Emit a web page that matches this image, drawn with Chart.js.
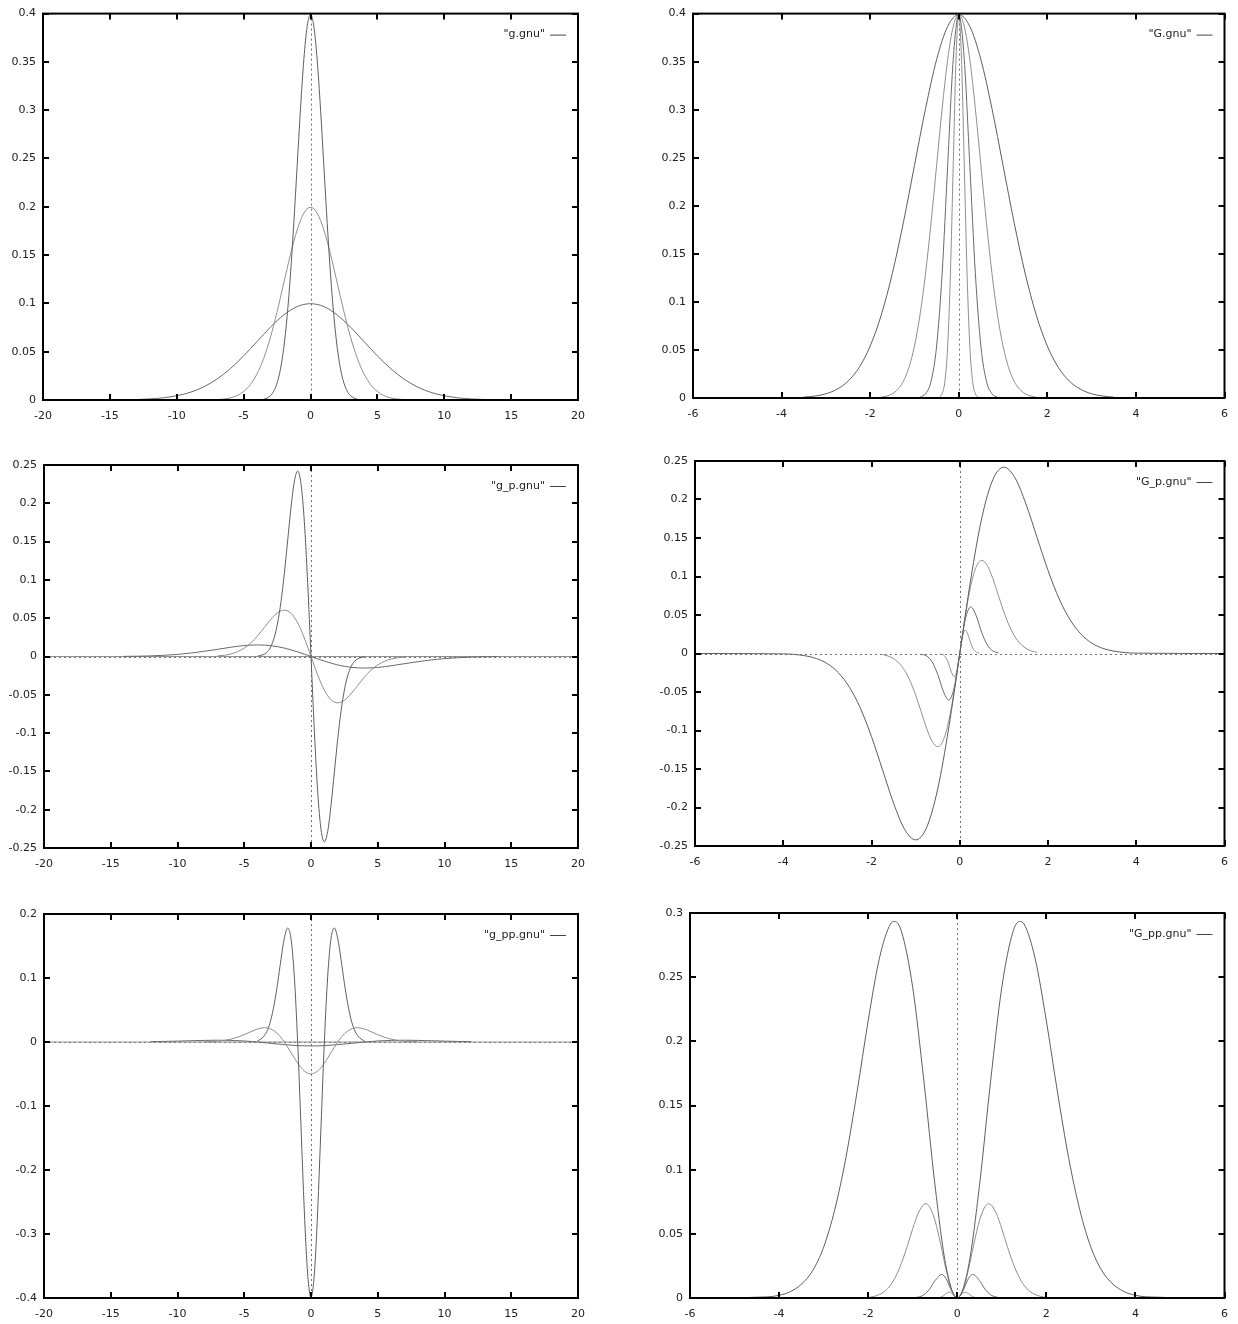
<!DOCTYPE html>
<html><head><meta charset="utf-8">
<script src="https://cdn.jsdelivr.net/npm/chart.js@4.4.1/dist/chart.umd.min.js"></script>
<style>
html,body{margin:0;padding:0;background:#fff;}
#wrap{position:relative;width:1238px;height:1324px;overflow:hidden;background:#fff;}
.panel{position:absolute;}
canvas{display:block;}
</style></head><body><div id="wrap"></div>
<script>
// ---------- tick values ----------
const xTicksWide = [-20,-15,-10,-5,0,5,10,15,20];
const xTicksNarrow = [-6,-4,-2,0,2,4,6];
const yTicksG = [0,0.05,0.1,0.15,0.2,0.25,0.3,0.35,0.4];
const yTicksGp = [-0.25,-0.2,-0.15,-0.1,-0.05,0,0.05,0.1,0.15,0.2,0.25];
const yTicksGpp = [-0.4,-0.3,-0.2,-0.1,0,0.1,0.2];
const yTicksBigGpp = [0,0.05,0.1,0.15,0.2,0.25,0.3];

// ---------- legend labels ----------
const legendLabels = ['"g.gnu"','"G.gnu"','"g_p.gnu"','"G_p.gnu"','"g_pp.gnu"','"G_pp.gnu"'];

// ---------- g.gnu ----------
const g1X = [-3.5,-3.25,-3,-2.75,-2.5,-2.25,-2,-1.75,-1.5,-1.25,-1,-0.75,-0.5,-0.25,0,0.25,0.5,0.75,1,1.25,1.5,1.75,2,2.25,2.5,2.75,3,3.25,3.5];
const g1Y = [0.0009,0.0020,0.0044,0.0091,0.0175,0.0317,0.0540,0.0863,0.1295,0.1826,0.2420,0.3011,0.3521,0.3867,0.3989,0.3867,0.3521,0.3011,0.2420,0.1826,0.1295,0.0863,0.0540,0.0317,0.0175,0.0091,0.0044,0.0020,0.0009];
const g2X = [-7,-6.5,-6,-5.5,-5,-4.5,-4,-3.5,-3,-2.5,-2,-1.5,-1,-0.5,0,0.5,1,1.5,2,2.5,3,3.5,4,4.5,5,5.5,6,6.5,7];
const g2Y = [0.0004,0.0010,0.0022,0.0045,0.0088,0.0159,0.0270,0.0431,0.0648,0.0913,0.1210,0.1506,0.1760,0.1934,0.1995,0.1934,0.1760,0.1506,0.1210,0.0913,0.0648,0.0431,0.0270,0.0159,0.0088,0.0045,0.0022,0.0010,0.0004];
const g4X = [-14,-13,-12,-11,-10,-9,-8,-7,-6,-5,-4,-3,-2,-1,0,1,2,3,4,5,6,7,8,9,10,11,12,13,14];
const g4Y = [0.0002,0.0005,0.0011,0.0023,0.0044,0.0079,0.0135,0.0216,0.0324,0.0457,0.0605,0.0753,0.0880,0.0967,0.0997,0.0967,0.0880,0.0753,0.0605,0.0457,0.0324,0.0216,0.0135,0.0079,0.0044,0.0023,0.0011,0.0005,0.0002];

// ---------- G.gnu ----------
const G1X = [-3.5,-3.25,-3,-2.75,-2.5,-2.25,-2,-1.75,-1.5,-1.25,-1,-0.75,-0.5,-0.25,0,0.25,0.5,0.75,1,1.25,1.5,1.75,2,2.25,2.5,2.75,3,3.25,3.5];
const G1Y = [0.0009,0.0020,0.0044,0.0091,0.0175,0.0317,0.0540,0.0863,0.1295,0.1826,0.2420,0.3011,0.3521,0.3867,0.3989,0.3867,0.3521,0.3011,0.2420,0.1826,0.1295,0.0863,0.0540,0.0317,0.0175,0.0091,0.0044,0.0020,0.0009];
const G2X = [-1.75,-1.625,-1.5,-1.375,-1.25,-1.125,-1,-0.875,-0.75,-0.625,-0.5,-0.375,-0.25,-0.125,0,0.125,0.25,0.375,0.5,0.625,0.75,0.875,1,1.125,1.25,1.375,1.5,1.625,1.75];
const G2Y = [0.0009,0.0020,0.0044,0.0091,0.0175,0.0317,0.0540,0.0863,0.1295,0.1826,0.2420,0.3011,0.3521,0.3867,0.3989,0.3867,0.3521,0.3011,0.2420,0.1826,0.1295,0.0863,0.0540,0.0317,0.0175,0.0091,0.0044,0.0020,0.0009];
const G3X = [-0.875,-0.75,-0.625,-0.5,-0.375,-0.25,-0.125,0,0.125,0.25,0.375,0.5,0.625,0.75,0.875];
const G3Y = [0.0009,0.0044,0.0175,0.0540,0.1295,0.2420,0.3521,0.3989,0.3521,0.2420,0.1295,0.0540,0.0175,0.0044,0.0009];
const G4X = [-0.4375,-0.375,-0.3125,-0.25,-0.1875,-0.125,-0.0625,0,0.0625,0.125,0.1875,0.25,0.3125,0.375,0.4375];
const G4Y = [0.0009,0.0044,0.0175,0.0540,0.1295,0.2420,0.3521,0.3989,0.3521,0.2420,0.1295,0.0540,0.0175,0.0044,0.0009];

// ---------- g_p.gnu ----------
const gp1X = [-4,-3.5,-3.25,-3,-2.75,-2.5,-2.25,-2,-1.75,-1.5,-1.25,-1,-0.75,-0.5,-0.25,0,0.25,0.5,0.75,1,1.25,1.5,1.75,2,2.25,2.5,2.75,3,3.25,3.5,4];
const gp1Y = [0.0005,0.0030,0.0065,0.0132,0.0250,0.0438,0.0713,0.1080,0.1510,0.1943,0.2283,0.2420,0.2258,0.1761,0.0967,0,-0.0967,-0.1761,-0.2258,-0.2420,-0.2283,-0.1943,-0.1510,-0.1080,-0.0713,-0.0438,-0.0250,-0.0132,-0.0065,-0.0030,-0.0005];
const gp2X = [-7,-6.5,-6,-5.5,-5,-4.5,-4,-3.5,-3,-2.5,-2,-1.5,-1,-0.5,0,0.5,1,1.5,2,2.5,3,3.5,4,4.5,5,5.5,6,6.5,7];
const gp2Y = [0.0008,0.0016,0.0033,0.0063,0.0110,0.0178,0.0270,0.0378,0.0486,0.0571,0.0605,0.0565,0.0440,0.0242,0,-0.0242,-0.0440,-0.0565,-0.0605,-0.0571,-0.0486,-0.0378,-0.0270,-0.0178,-0.0110,-0.0063,-0.0033,-0.0016,-0.0008];
const gp4X = [-14,-13,-12,-11,-10,-9,-8,-7,-6,-5,-4,-3,-2,-1,0,1,2,3,4,5,6,7,8,9,10,11,12,13,14];
const gp4Y = [0.0002,0.0004,0.0008,0.0016,0.0027,0.0045,0.0068,0.0094,0.0121,0.0143,0.0151,0.0141,0.0110,0.0060,0,-0.0060,-0.0110,-0.0141,-0.0151,-0.0143,-0.0121,-0.0094,-0.0068,-0.0045,-0.0027,-0.0016,-0.0008,-0.0004,-0.0002];
const gpBaseX = [-20,20];
const gpBaseY = [0,0];

// ---------- G_p.gnu ----------
const Gp1X = [-6,-4,-3.5,-3.25,-3,-2.75,-2.5,-2.25,-2,-1.75,-1.5,-1.25,-1,-0.75,-0.5,-0.25,0,0.25,0.5,0.75,1,1.25,1.5,1.75,2,2.25,2.5,2.75,3,3.25,3.5,4,6];
const Gp1Y = [0,-0.0005,-0.0030,-0.0065,-0.0132,-0.0250,-0.0438,-0.0713,-0.1080,-0.1510,-0.1943,-0.2283,-0.2420,-0.2258,-0.1761,-0.0967,0,0.0967,0.1761,0.2258,0.2420,0.2283,0.1943,0.1510,0.1080,0.0713,0.0438,0.0250,0.0132,0.0065,0.0030,0.0005,0];
const Gp2X = [-1.75,-1.625,-1.5,-1.375,-1.25,-1.125,-1,-0.875,-0.75,-0.625,-0.5,-0.375,-0.25,-0.125,0,0.125,0.25,0.375,0.5,0.625,0.75,0.875,1,1.125,1.25,1.375,1.5,1.625,1.75];
const Gp2Y = [-0.0015,-0.0033,-0.0066,-0.0125,-0.0219,-0.0357,-0.0540,-0.0755,-0.0972,-0.1142,-0.1210,-0.1129,-0.0881,-0.0484,0,0.0484,0.0881,0.1129,0.1210,0.1142,0.0972,0.0755,0.0540,0.0357,0.0219,0.0125,0.0066,0.0033,0.0015];
const Gp3X = [-0.875,-0.75,-0.625,-0.5,-0.375,-0.25,-0.125,0,0.125,0.25,0.375,0.5,0.625,0.75,0.875];
const Gp3Y = [-0.0008,-0.0033,-0.0110,-0.0270,-0.0486,-0.0605,-0.0440,0,0.0440,0.0605,0.0486,0.0270,0.0110,0.0033,0.0008];
const Gp4X = [-0.4375,-0.375,-0.3125,-0.25,-0.1875,-0.125,-0.0625,0,0.0625,0.125,0.1875,0.25,0.3125,0.375,0.4375];
const Gp4Y = [-0.0004,-0.0017,-0.0055,-0.0135,-0.0243,-0.0303,-0.0220,0,0.0220,0.0303,0.0243,0.0135,0.0055,0.0017,0.0004];

// ---------- g_pp.gnu ----------
const gpp1X = [-4,-3.75,-3.5,-3.25,-3,-2.75,-2.5,-2.25,-2,-1.75,-1.5,-1.25,-1,-0.75,-0.5,-0.25,0,0.25,0.5,0.75,1,1.25,1.5,1.75,2,2.25,2.5,2.75,3,3.25,3.5,3.75,4];
const gpp1Y = [0.0020,0.0046,0.0098,0.0191,0.0352,0.0597,0.0919,0.1288,0.1620,0.1780,0.1619,0.1027,0,-0.1317,-0.2641,-0.3625,-0.3989,-0.3625,-0.2641,-0.1317,0,0.1027,0.1619,0.1780,0.1620,0.1288,0.0919,0.0597,0.0352,0.0191,0.0098,0.0046,0.0020];
const gpp2X = [-8,-7.5,-7,-6.5,-6,-5.5,-5,-4.5,-4,-3.5,-3,-2.5,-2,-1.5,-1,-0.5,0,0.5,1,1.5,2,2.5,3,3.5,4,4.5,5,5.5,6,6.5,7,7.5,8];
const gpp2Y = [0.0003,0.0006,0.0012,0.0024,0.0044,0.0075,0.0115,0.0161,0.0203,0.0223,0.0202,0.0128,0,-0.0165,-0.0330,-0.0453,-0.0499,-0.0453,-0.0330,-0.0165,0,0.0128,0.0202,0.0223,0.0203,0.0161,0.0115,0.0075,0.0044,0.0024,0.0012,0.0006,0.0003];
const gpp4X = [-12,-11,-10,-9,-8,-7,-6,-5,-4,-3,-2,-1,0,1,2,3,4,5,6,7,8,9,10,11,12];
const gpp4Y = [0.0006,0.0009,0.0014,0.0020,0.0025,0.0028,0.0025,0.0016,0,-0.0021,-0.0041,-0.0057,-0.0062,-0.0057,-0.0041,-0.0021,0,0.0016,0.0025,0.0028,0.0025,0.0020,0.0014,0.0009,0.0006];
const gppBaseX = [-20,20];
const gppBaseY = [0,0];

// ---------- G_pp.gnu ----------
const Gpp1X = [-6,-4.25,-4,-3.75,-3.5,-3.25,-3,-2.75,-2.5,-2.25,-2,-1.75,-1.5,-1.4,-1.25,-1,-0.75,-0.5,-0.25,0,0.25,0.5,0.75,1,1.25,1.4,1.5,1.75,2,2.25,2.5,2.75,3,3.25,3.5,3.75,4,4.25,6];
const Gpp1Y = [0,0.0009,0.0021,0.0049,0.0107,0.0211,0.0396,0.0688,0.1094,0.1605,0.2160,0.2643,0.2914,0.2934,0.2853,0.2420,0.1694,0.0880,0.0242,0,0.0242,0.0880,0.1694,0.2420,0.2853,0.2934,0.2914,0.2643,0.2160,0.1605,0.1094,0.0688,0.0396,0.0211,0.0107,0.0049,0.0021,0.0009,0];
const Gpp2X = [-2.125,-2,-1.875,-1.75,-1.625,-1.5,-1.375,-1.25,-1.125,-1,-0.875,-0.75,-0.7,-0.625,-0.5,-0.375,-0.25,-0.125,0,0.125,0.25,0.375,0.5,0.625,0.7,0.75,0.875,1,1.125,1.25,1.375,1.5,1.625,1.75,1.875,2,2.125];
const Gpp2Y = [0.0002,0.0005,0.0012,0.0027,0.0053,0.0099,0.0172,0.0274,0.0401,0.0540,0.0661,0.0729,0.0734,0.0713,0.0605,0.0424,0.0220,0.0061,0,0.0061,0.0220,0.0424,0.0605,0.0713,0.0734,0.0729,0.0661,0.0540,0.0401,0.0274,0.0172,0.0099,0.0053,0.0027,0.0012,0.0005,0.0002];
const Gpp3X = [-1,-0.875,-0.75,-0.625,-0.5,-0.35,-0.25,-0.125,0,0.125,0.25,0.35,0.5,0.625,0.75,0.875,1];
const Gpp3Y = [0.0001,0.0007,0.0025,0.0068,0.0135,0.0183,0.0151,0.0055,0,0.0055,0.0151,0.0183,0.0135,0.0068,0.0025,0.0007,0.0001];
const Gpp4X = [-0.5,-0.4375,-0.375,-0.3125,-0.25,-0.175,-0.125,-0.0625,0,0.0625,0.125,0.175,0.25,0.3125,0.375,0.4375,0.5];
const Gpp4Y = [0,0.0002,0.0006,0.0017,0.0034,0.0046,0.0038,0.0014,0,0.0014,0.0038,0.0046,0.0034,0.0017,0.0006,0.0002,0];

// ---------- styling / layout ----------
const lineColors = ['#5e5e5e','#8e8e8e','#6a6a6a','#909090','#8a8a8a'];
const FONT = {family:'"DejaVu Sans", sans-serif', size:11};
const TEXT = '#222';

const panels = [
  {cl:0,   ct:0,   cw:600, ch:430, pl:43,  pt:13,  pr:578,  pb:400,  xr:[-20,20], yr:[0,0.4],     xt:xTicksWide,   yt:yTicksG,      legend:legendLabels[0], series:[[g1X,g1Y],[g2X,g2Y],[g4X,g4Y]]},
  {cl:640, ct:0,   cw:598, ch:430, pl:693, pt:13,  pr:1225, pb:398,  xr:[-6,6],   yr:[0,0.4],     xt:xTicksNarrow, yt:yTicksG,      legend:legendLabels[1], series:[[G1X,G1Y],[G2X,G2Y],[G3X,G3Y],[G4X,G4Y]]},
  {cl:0,   ct:440, cw:600, ch:430, pl:44,  pt:465, pr:578,  pb:848,  xr:[-20,20], yr:[-0.25,0.25],xt:xTicksWide,   yt:yTicksGp,     legend:legendLabels[2], series:[[gp1X,gp1Y],[gp2X,gp2Y],[gp4X,gp4Y],[gpBaseX,gpBaseY]]},
  {cl:640, ct:440, cw:598, ch:430, pl:695, pt:461, pr:1226, pb:846,  xr:[-6,6],   yr:[-0.25,0.25],xt:xTicksNarrow, yt:yTicksGp,     legend:legendLabels[3], series:[[Gp1X,Gp1Y],[Gp2X,Gp2Y],[Gp3X,Gp3Y],[Gp4X,Gp4Y]]},
  {cl:0,   ct:890, cw:600, ch:434, pl:44,  pt:914, pr:578,  pb:1298, xr:[-20,20], yr:[-0.4,0.2],  xt:xTicksWide,   yt:yTicksGpp,    legend:legendLabels[4], series:[[gpp1X,gpp1Y],[gpp2X,gpp2Y],[gpp4X,gpp4Y],[gppBaseX,gppBaseY]]},
  {cl:640, ct:890, cw:598, ch:434, pl:690, pt:913, pr:1226, pb:1298, xr:[-6,6],   yr:[0,0.3],     xt:xTicksNarrow, yt:yTicksBigGpp, legend:legendLabels[5], series:[[Gpp1X,Gpp1Y],[Gpp2X,Gpp2Y],[Gpp3X,Gpp3Y],[Gpp4X,Gpp4Y]]}
];

function fmt(v){ return String(Math.round(v*1000)/1000); }

const gnuFrame = {
  id:'gnuFrame',
  beforeDatasetsDraw(chart){
    const {ctx, chartArea:a, scales:{x,y}} = chart;
    ctx.save();
    ctx.strokeStyle = '#707070'; ctx.lineWidth = 1; ctx.setLineDash([2,3]);
    const x0 = Math.round(x.getPixelForValue(0)) + 0.5;
    ctx.beginPath(); ctx.moveTo(x0, a.top); ctx.lineTo(x0, a.bottom); ctx.stroke();
    if (y.min < 0 && y.max > 0) {
      const y0 = Math.round(y.getPixelForValue(0)) + 0.5;
      ctx.beginPath(); ctx.moveTo(a.left, y0); ctx.lineTo(a.right, y0); ctx.stroke();
    }
    ctx.restore();
  },
  afterDatasetsDraw(chart, args, opts){
    const {ctx, chartArea:a, scales:{x,y}} = chart;
    ctx.save();
    ctx.strokeStyle = '#000'; ctx.lineWidth = 2; ctx.setLineDash([]);
    ctx.strokeRect(a.left, a.top, a.right - a.left, a.bottom - a.top);
    const TL = 6;
    ctx.beginPath();
    x.ticks.forEach(t => {
      const px = Math.round(x.getPixelForValue(t.value));
      ctx.moveTo(px, a.bottom); ctx.lineTo(px, a.bottom - TL);
      ctx.moveTo(px, a.top); ctx.lineTo(px, a.top + TL);
    });
    y.ticks.forEach(t => {
      const py = Math.round(y.getPixelForValue(t.value));
      ctx.moveTo(a.left, py); ctx.lineTo(a.left + TL, py);
      ctx.moveTo(a.right, py); ctx.lineTo(a.right - TL, py);
    });
    ctx.stroke();
    // legend
    const ly = a.top + 21;
    ctx.font = '11px "DejaVu Sans", sans-serif';
    ctx.fillStyle = TEXT; ctx.textAlign = 'right'; ctx.textBaseline = 'middle';
    ctx.fillText(opts.label, a.right - 33, ly);
    ctx.strokeStyle = '#444'; ctx.lineWidth = 1;
    ctx.beginPath(); ctx.moveTo(a.right - 28, ly + 0.5); ctx.lineTo(a.right - 12, ly + 0.5); ctx.stroke();
    ctx.restore();
  }
};

const wrap = document.getElementById('wrap');
panels.forEach(p => {
  const div = document.createElement('div');
  div.className = 'panel';
  div.style.cssText = `left:${p.cl}px;top:${p.ct}px;width:${p.cw}px;height:${p.ch}px;`;
  const c = document.createElement('canvas');
  c.width = p.cw; c.height = p.ch;
  c.style.width = p.cw + 'px'; c.style.height = p.ch + 'px';
  div.appendChild(c); wrap.appendChild(div);
  const yW = p.pl - p.cl, xH = p.ct + p.ch - p.pb;
  new Chart(c, {
    type:'line',
    data:{datasets: p.series.map((s,i) => ({
      label: 'curve ' + (i+1),
      data: s[0].map((xv,j) => ({x:xv, y:s[1][j]})),
      borderColor: lineColors[i], borderWidth: 1, pointRadius: 0, pointHoverRadius: 0,
      cubicInterpolationMode: 'monotone', fill: false
    }))},
    options:{
      responsive:false, maintainAspectRatio:false, animation:false, devicePixelRatio:1,
      events: [],
      layout:{padding:{top:p.pt - p.ct, right:p.cl + p.cw - p.pr, left:0, bottom:0}},
      plugins:{legend:{display:false}, tooltip:{enabled:false}, gnuFrame:{label:p.legend}},
      scales:{
        x:{type:'linear', min:p.xr[0], max:p.xr[1],
          afterBuildTicks: sc => { sc.ticks = p.xt.map(v => ({value:v})); },
          afterFit: sc => { sc.height = xH; },
          grid:{display:false, drawTicks:false}, border:{display:false},
          ticks:{padding:10, font:FONT, color:TEXT, autoSkip:false, maxRotation:0, minRotation:0, callback: v => fmt(v)}},
        y:{type:'linear', min:p.yr[0], max:p.yr[1],
          afterBuildTicks: sc => { sc.ticks = p.yt.map(v => ({value:v})); },
          afterFit: sc => { sc.width = yW; },
          grid:{display:false, drawTicks:false}, border:{display:false},
          ticks:{padding:7, font:FONT, color:TEXT, autoSkip:false, callback: v => fmt(v)}}
      }
    },
    plugins:[gnuFrame]
  });
});
</script></body></html>
